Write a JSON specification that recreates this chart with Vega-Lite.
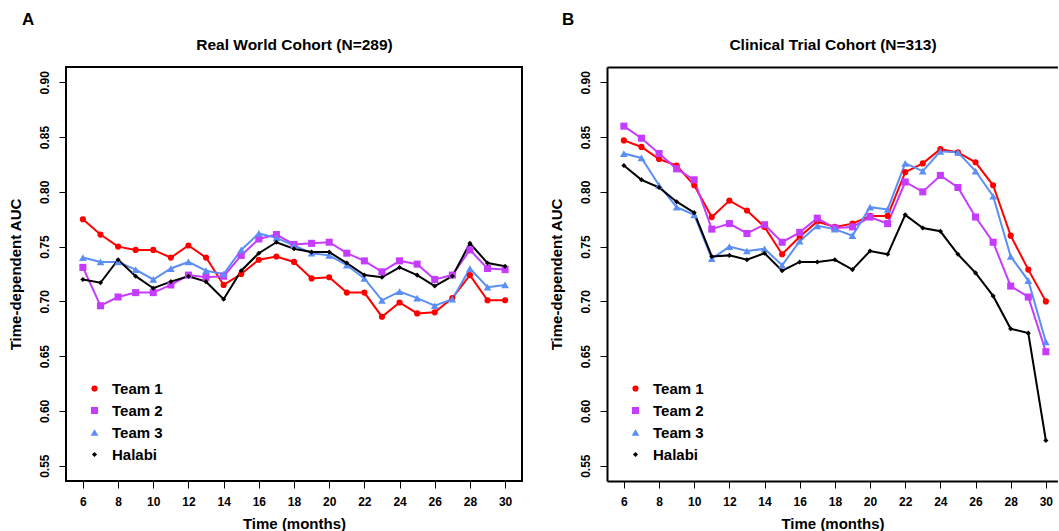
{
  "$schema": "https://vega.github.io/schema/vega-lite/v6.json",
  "padding": {"left": 7, "top": 10, "right": 0, "bottom": 0},
  "background": "white",
  "datasets": {
    "realworld": [
      {"month":6,"team":"Team 1","auc":0.775},{"month":7,"team":"Team 1","auc":0.761},{"month":8,"team":"Team 1","auc":0.750},{"month":9,"team":"Team 1","auc":0.747},{"month":10,"team":"Team 1","auc":0.747},{"month":11,"team":"Team 1","auc":0.740},{"month":12,"team":"Team 1","auc":0.751},{"month":13,"team":"Team 1","auc":0.740},{"month":14,"team":"Team 1","auc":0.715},{"month":15,"team":"Team 1","auc":0.725},{"month":16,"team":"Team 1","auc":0.738},{"month":17,"team":"Team 1","auc":0.741},{"month":18,"team":"Team 1","auc":0.736},{"month":19,"team":"Team 1","auc":0.721},{"month":20,"team":"Team 1","auc":0.722},{"month":21,"team":"Team 1","auc":0.708},{"month":22,"team":"Team 1","auc":0.708},{"month":23,"team":"Team 1","auc":0.686},{"month":24,"team":"Team 1","auc":0.699},{"month":25,"team":"Team 1","auc":0.689},{"month":26,"team":"Team 1","auc":0.690},{"month":27,"team":"Team 1","auc":0.703},{"month":28,"team":"Team 1","auc":0.724},{"month":29,"team":"Team 1","auc":0.701},{"month":30,"team":"Team 1","auc":0.701},
      {"month":6,"team":"Team 2","auc":0.731},{"month":7,"team":"Team 2","auc":0.696},{"month":8,"team":"Team 2","auc":0.704},{"month":9,"team":"Team 2","auc":0.708},{"month":10,"team":"Team 2","auc":0.708},{"month":11,"team":"Team 2","auc":0.715},{"month":12,"team":"Team 2","auc":0.724},{"month":13,"team":"Team 2","auc":0.722},{"month":14,"team":"Team 2","auc":0.723},{"month":15,"team":"Team 2","auc":0.742},{"month":16,"team":"Team 2","auc":0.757},{"month":17,"team":"Team 2","auc":0.761},{"month":18,"team":"Team 2","auc":0.752},{"month":19,"team":"Team 2","auc":0.753},{"month":20,"team":"Team 2","auc":0.754},{"month":21,"team":"Team 2","auc":0.744},{"month":22,"team":"Team 2","auc":0.737},{"month":23,"team":"Team 2","auc":0.727},{"month":24,"team":"Team 2","auc":0.737},{"month":25,"team":"Team 2","auc":0.734},{"month":26,"team":"Team 2","auc":0.720},{"month":27,"team":"Team 2","auc":0.724},{"month":28,"team":"Team 2","auc":0.747},{"month":29,"team":"Team 2","auc":0.730},{"month":30,"team":"Team 2","auc":0.729},
      {"month":6,"team":"Team 3","auc":0.740},{"month":7,"team":"Team 3","auc":0.736},{"month":8,"team":"Team 3","auc":0.736},{"month":9,"team":"Team 3","auc":0.729},{"month":10,"team":"Team 3","auc":0.720},{"month":11,"team":"Team 3","auc":0.730},{"month":12,"team":"Team 3","auc":0.736},{"month":13,"team":"Team 3","auc":0.728},{"month":14,"team":"Team 3","auc":0.725},{"month":15,"team":"Team 3","auc":0.747},{"month":16,"team":"Team 3","auc":0.762},{"month":17,"team":"Team 3","auc":0.758},{"month":18,"team":"Team 3","auc":0.751},{"month":19,"team":"Team 3","auc":0.744},{"month":20,"team":"Team 3","auc":0.742},{"month":21,"team":"Team 3","auc":0.733},{"month":22,"team":"Team 3","auc":0.721},{"month":23,"team":"Team 3","auc":0.701},{"month":24,"team":"Team 3","auc":0.709},{"month":25,"team":"Team 3","auc":0.703},{"month":26,"team":"Team 3","auc":0.696},{"month":27,"team":"Team 3","auc":0.702},{"month":28,"team":"Team 3","auc":0.730},{"month":29,"team":"Team 3","auc":0.713},{"month":30,"team":"Team 3","auc":0.715},
      {"month":6,"team":"Halabi","auc":0.720},{"month":7,"team":"Halabi","auc":0.717},{"month":8,"team":"Halabi","auc":0.738},{"month":9,"team":"Halabi","auc":0.723},{"month":10,"team":"Halabi","auc":0.712},{"month":11,"team":"Halabi","auc":0.718},{"month":12,"team":"Halabi","auc":0.723},{"month":13,"team":"Halabi","auc":0.718},{"month":14,"team":"Halabi","auc":0.702},{"month":15,"team":"Halabi","auc":0.728},{"month":16,"team":"Halabi","auc":0.744},{"month":17,"team":"Halabi","auc":0.754},{"month":18,"team":"Halabi","auc":0.748},{"month":19,"team":"Halabi","auc":0.745},{"month":20,"team":"Halabi","auc":0.745},{"month":21,"team":"Halabi","auc":0.735},{"month":22,"team":"Halabi","auc":0.724},{"month":23,"team":"Halabi","auc":0.722},{"month":24,"team":"Halabi","auc":0.731},{"month":25,"team":"Halabi","auc":0.724},{"month":26,"team":"Halabi","auc":0.714},{"month":27,"team":"Halabi","auc":0.723},{"month":28,"team":"Halabi","auc":0.753},{"month":29,"team":"Halabi","auc":0.735},{"month":30,"team":"Halabi","auc":0.732}
    ],
    "clinical": [
      {"month":6,"team":"Team 1","auc":0.847},{"month":7,"team":"Team 1","auc":0.841},{"month":8,"team":"Team 1","auc":0.830},{"month":9,"team":"Team 1","auc":0.824},{"month":10,"team":"Team 1","auc":0.806},{"month":11,"team":"Team 1","auc":0.777},{"month":12,"team":"Team 1","auc":0.792},{"month":13,"team":"Team 1","auc":0.783},{"month":14,"team":"Team 1","auc":0.768},{"month":15,"team":"Team 1","auc":0.743},{"month":16,"team":"Team 1","auc":0.759},{"month":17,"team":"Team 1","auc":0.773},{"month":18,"team":"Team 1","auc":0.768},{"month":19,"team":"Team 1","auc":0.771},{"month":20,"team":"Team 1","auc":0.778},{"month":21,"team":"Team 1","auc":0.778},{"month":22,"team":"Team 1","auc":0.818},{"month":23,"team":"Team 1","auc":0.826},{"month":24,"team":"Team 1","auc":0.839},{"month":25,"team":"Team 1","auc":0.836},{"month":26,"team":"Team 1","auc":0.827},{"month":27,"team":"Team 1","auc":0.806},{"month":28,"team":"Team 1","auc":0.760},{"month":29,"team":"Team 1","auc":0.729},{"month":30,"team":"Team 1","auc":0.700},
      {"month":6,"team":"Team 2","auc":0.860},{"month":7,"team":"Team 2","auc":0.849},{"month":8,"team":"Team 2","auc":0.835},{"month":9,"team":"Team 2","auc":0.821},{"month":10,"team":"Team 2","auc":0.811},{"month":11,"team":"Team 2","auc":0.766},{"month":12,"team":"Team 2","auc":0.771},{"month":13,"team":"Team 2","auc":0.762},{"month":14,"team":"Team 2","auc":0.770},{"month":15,"team":"Team 2","auc":0.754},{"month":16,"team":"Team 2","auc":0.763},{"month":17,"team":"Team 2","auc":0.776},{"month":18,"team":"Team 2","auc":0.767},{"month":19,"team":"Team 2","auc":0.768},{"month":20,"team":"Team 2","auc":0.777},{"month":21,"team":"Team 2","auc":0.771},{"month":22,"team":"Team 2","auc":0.809},{"month":23,"team":"Team 2","auc":0.800},{"month":24,"team":"Team 2","auc":0.815},{"month":25,"team":"Team 2","auc":0.804},{"month":26,"team":"Team 2","auc":0.777},{"month":27,"team":"Team 2","auc":0.754},{"month":28,"team":"Team 2","auc":0.714},{"month":29,"team":"Team 2","auc":0.704},{"month":30,"team":"Team 2","auc":0.654},
      {"month":6,"team":"Team 3","auc":0.835},{"month":7,"team":"Team 3","auc":0.831},{"month":8,"team":"Team 3","auc":0.806},{"month":9,"team":"Team 3","auc":0.786},{"month":10,"team":"Team 3","auc":0.779},{"month":11,"team":"Team 3","auc":0.739},{"month":12,"team":"Team 3","auc":0.750},{"month":13,"team":"Team 3","auc":0.746},{"month":14,"team":"Team 3","auc":0.748},{"month":15,"team":"Team 3","auc":0.733},{"month":16,"team":"Team 3","auc":0.755},{"month":17,"team":"Team 3","auc":0.769},{"month":18,"team":"Team 3","auc":0.766},{"month":19,"team":"Team 3","auc":0.760},{"month":20,"team":"Team 3","auc":0.786},{"month":21,"team":"Team 3","auc":0.784},{"month":22,"team":"Team 3","auc":0.826},{"month":23,"team":"Team 3","auc":0.819},{"month":24,"team":"Team 3","auc":0.837},{"month":25,"team":"Team 3","auc":0.836},{"month":26,"team":"Team 3","auc":0.819},{"month":27,"team":"Team 3","auc":0.796},{"month":28,"team":"Team 3","auc":0.741},{"month":29,"team":"Team 3","auc":0.719},{"month":30,"team":"Team 3","auc":0.663},
      {"month":6,"team":"Halabi","auc":0.824},{"month":7,"team":"Halabi","auc":0.811},{"month":8,"team":"Halabi","auc":0.804},{"month":9,"team":"Halabi","auc":0.791},{"month":10,"team":"Halabi","auc":0.781},{"month":11,"team":"Halabi","auc":0.741},{"month":12,"team":"Halabi","auc":0.742},{"month":13,"team":"Halabi","auc":0.738},{"month":14,"team":"Halabi","auc":0.744},{"month":15,"team":"Halabi","auc":0.728},{"month":16,"team":"Halabi","auc":0.736},{"month":17,"team":"Halabi","auc":0.736},{"month":18,"team":"Halabi","auc":0.738},{"month":19,"team":"Halabi","auc":0.729},{"month":20,"team":"Halabi","auc":0.746},{"month":21,"team":"Halabi","auc":0.743},{"month":22,"team":"Halabi","auc":0.779},{"month":23,"team":"Halabi","auc":0.767},{"month":24,"team":"Halabi","auc":0.764},{"month":25,"team":"Halabi","auc":0.743},{"month":26,"team":"Halabi","auc":0.726},{"month":27,"team":"Halabi","auc":0.705},{"month":28,"team":"Halabi","auc":0.675},{"month":29,"team":"Halabi","auc":0.671},{"month":30,"team":"Halabi","auc":0.573}
    ]
  },
  "bounds": "flush",
  "spacing": 85,
  "resolve": {
    "scale": {"x": "independent", "y": "independent", "color": "independent", "stroke": "independent", "shape": "independent", "size": "independent"},
    "legend": {"color": "independent", "shape": "independent", "size": "independent"}
  },
  "hconcat": [
    {
      "width": 456,
      "height": 414,
      "data": {"name": "realworld"},
      "title": {"text": "A", "anchor": "start", "frame": "group", "dx": -44, "fontSize": 17, "fontWeight": "bold", "offset": 8},
      "view": {"stroke": "black", "strokeWidth": 2},
      "layer": [
        {
          "mark": {"type": "line", "strokeWidth": 2},
          "encoding": {
            "x": {"field": "month", "type": "quantitative",
              "scale": {"domain": [5.04, 30.96], "nice": false, "zero": false},
              "axis": {"orient": "bottom", "values": [6,8,10,12,14,16,18,20,22,24,26,28,30], "title": "Time (months)", "domain": false, "labelPadding": 8, "titlePadding": 9}},
            "y": {"field": "auc", "type": "quantitative",
              "scale": {"domain": [0.536, 0.914], "nice": false, "zero": false},
              "axis": {"orient": "left", "values": [0.55,0.6,0.65,0.7,0.75,0.8,0.85,0.9], "format": ".2f", "labelAngle": -90, "labelAlign": "center", "labelBaseline": "alphabetic", "labelPadding": 11, "title": "Time-dependent AUC", "domain": false, "titlePadding": 15}},
            "stroke": {"field": "team", "type": "nominal",
              "scale": {"domain": ["Halabi","Team 1","Team 2","Team 3"], "range": ["#000000","#FF0000","#C63CFF","#5B8FF5"]},
              "legend": null}
          }
        },
        {
          "mark": {"type": "point", "filled": true, "opacity": 1, "strokeWidth": 0},
          "encoding": {
            "x": {"field": "month", "type": "quantitative",
              "axis": {"orient": "top", "title": "Real World Cohort (N=289)", "titleFontSize": 15.5, "labels": false, "ticks": false, "domain": false, "titlePadding": 15}},
            "y": {"field": "auc", "type": "quantitative"},
            "color": {"field": "team", "type": "nominal",
              "scale": {"domain": ["Team 1","Team 2","Team 3","Halabi"], "range": ["#FF0000","#C63CFF","#5B8FF5","#000000"]},
              "legend": {"orient": "none", "legendX": 21, "legendY": 314, "title": null}},
            "shape": {"field": "team", "type": "nominal",
              "scale": {"domain": ["Team 1","Team 2","Team 3","Halabi"], "range": ["circle","square","triangle-up","diamond"]},
              "legend": {"orient": "none", "legendX": 21, "legendY": 314, "title": null}},
            "size": {"field": "team", "type": "nominal",
              "scale": {"type": "ordinal", "domain": ["Team 1","Team 2","Team 3","Halabi"], "range": [38, 50, 60, 26]},
              "legend": {"orient": "none", "legendX": 21, "legendY": 314, "title": null}}
          }
        }
      ]
    },
    {
      "width": 451,
      "height": 414,
      "data": {"name": "clinical"},
      "title": {"text": "B", "anchor": "start", "frame": "group", "dx": -45, "fontSize": 17, "fontWeight": "bold", "offset": 8},
      "view": {"stroke": null},
      "layer": [
        {
          "mark": {"type": "line", "strokeWidth": 2},
          "encoding": {
            "x": {"field": "month", "type": "quantitative",
              "scale": {"domain": [5.04, 30.69], "nice": false, "zero": false},
              "axis": {"orient": "bottom", "values": [6,8,10,12,14,16,18,20,22,24,26,28,30], "title": "Time (months)", "domain": true, "labelPadding": 8, "titlePadding": 9}},
            "y": {"field": "auc", "type": "quantitative",
              "scale": {"domain": [0.536, 0.914], "nice": false, "zero": false},
              "axis": {"orient": "left", "values": [0.55,0.6,0.65,0.7,0.75,0.8,0.85,0.9], "format": ".2f", "labelAngle": -90, "labelAlign": "center", "labelBaseline": "alphabetic", "labelPadding": 11, "title": "Time-dependent AUC", "domain": true, "titlePadding": 15}},
            "stroke": {"field": "team", "type": "nominal",
              "scale": {"domain": ["Halabi","Team 1","Team 2","Team 3"], "range": ["#000000","#FF0000","#C63CFF","#5B8FF5"]},
              "legend": null}
          }
        },
        {
          "mark": {"type": "point", "filled": true, "opacity": 1, "strokeWidth": 0},
          "encoding": {
            "x": {"field": "month", "type": "quantitative",
              "axis": {"orient": "top", "title": "Clinical Trial Cohort (N=313)", "titleFontSize": 15.5, "labels": false, "ticks": false, "domain": true, "titlePadding": 15}},
            "y": {"field": "auc", "type": "quantitative"},
            "color": {"field": "team", "type": "nominal",
              "scale": {"domain": ["Team 1","Team 2","Team 3","Halabi"], "range": ["#FF0000","#C63CFF","#5B8FF5","#000000"]},
              "legend": {"orient": "none", "legendX": 21, "legendY": 314, "title": null}},
            "shape": {"field": "team", "type": "nominal",
              "scale": {"domain": ["Team 1","Team 2","Team 3","Halabi"], "range": ["circle","square","triangle-up","diamond"]},
              "legend": {"orient": "none", "legendX": 21, "legendY": 314, "title": null}},
            "size": {"field": "team", "type": "nominal",
              "scale": {"type": "ordinal", "domain": ["Team 1","Team 2","Team 3","Halabi"], "range": [38, 50, 60, 26]},
              "legend": {"orient": "none", "legendX": 21, "legendY": 314, "title": null}}
          }
        }
      ]
    }
  ],
  "config": {
    "font": "Liberation Sans",
    "axis": {
      "grid": false,
      "labelFont": "Liberation Sans", "labelFontSize": 12, "labelFontWeight": "bold", "labelColor": "black",
      "titleFont": "Liberation Sans", "titleFontSize": 15, "titleFontWeight": "bold", "titleColor": "black",
      "tickColor": "black", "tickSize": 7, "tickWidth": 1,
      "domainColor": "black", "domainWidth": 2,
      "labelFlush": false, "labelOverlap": false
    },
    "legend": {
      "labelFont": "Liberation Sans", "labelFontSize": 15, "labelFontWeight": "bold", "labelColor": "black",
      "labelOffset": 10, "rowPadding": 6, "padding": 0, "symbolStrokeWidth": 0
    },
    "title": {"font": "Liberation Sans", "color": "black"}
  }
}
